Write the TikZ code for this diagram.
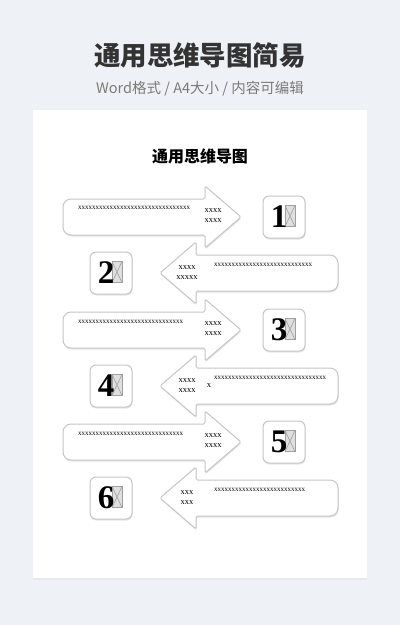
\documentclass[tikz,border=0pt]{standalone}
\usepackage{fontspec}
\newfontfamily\cjk{Noto Sans CJK SC}
\newfontfamily\xfont{Liberation Serif}
\usetikzlibrary{shadows,positioning}
\definecolor{bgcol}{HTML}{EEF1F6}
\definecolor{edgecol}{HTML}{C6C6C6}
\definecolor{titlecol}{HTML}{333333}
\definecolor{subcol}{HTML}{7A7A7A}
\tikzstyle{page} = [fill=white, drop shadow={opacity=0.08, shadow xshift=0pt, shadow yshift=-2pt}]
\tikzstyle{card} = [draw=edgecol, line width=1pt, fill=white, drop shadow={opacity=0.2, shadow xshift=0.6pt, shadow yshift=-1.5pt}]
\tikzstyle{numbox} = [card, rounded corners=6pt, minimum width=42pt, minimum height=42pt]
\tikzstyle{digit} = [font=\xfont\fontsize{33}{33}\selectfont\bfseries, inner sep=0pt]
\tikzstyle{glyph} = [draw=gray!75, fill=gray!25, line width=0.8pt, inner sep=0pt, minimum width=10pt, minimum height=21pt,
  path picture={\draw[gray!75, line width=0.6pt] (path picture bounding box.north west) -- (path picture bounding box.south east)
  (path picture bounding box.south west) -- (path picture bounding box.north east);}]
\tikzstyle{xtext} = [font=\xfont\fontsize{8.5}{10}\selectfont, inner sep=0pt, align=center]
\tikzstyle{xline} = [font=\xfont\fontsize{7}{8}\selectfont, inner sep=0pt, anchor=west]

% arrow pointing right, centre line at #1
\newcommand{\rarrowshape}[1]{%
  \draw[card] (130,#1-18) [rounded corners=1.5pt] -- (205,#1-18) -- (205,#1-31) -- (241,#1) -- (205,#1+31) -- (205,#1+18)
    [rounded corners=8pt] -- (63,#1+18) -- (63,#1-18) -- cycle;}
% arrow pointing left, centre line at #1
\newcommand{\larrowshape}[1]{%
  \draw[card] (270,#1+18) [rounded corners=1.5pt] -- (196,#1+18) -- (196,#1+31) -- (160,#1) -- (196,#1-31) -- (196,#1-18)
    [rounded corners=8pt] -- (338,#1-18) -- (338,#1+18) -- cycle;}

\begin{document}
\begin{tikzpicture}[x=1pt, y=-1pt]

    \fill[bgcol] (0,0) rectangle (400,625);
    \useasboundingbox (0,0) rectangle (400,625);

    \node [font=\cjk\fontsize{26.5}{26.5}\selectfont\bfseries, text=titlecol, name=title] at (200,55) {通用思维导图简易};
    \node [font=\cjk\fontsize{14.5}{14.5}\selectfont, text=subcol, below=6pt of title, name=sub] {Word格式 / A4大小 / 内容可编辑};

    \fill[page] (33,110) rectangle (367,578);

    \node [font=\cjk\fontsize{16}{16}\selectfont\bfseries, name=head] at (200,156) {通用思维导图};

    % row 1
    \rarrowshape{217}
    \node [xline, name=t1] at (78,208) {xxxxxxxxxxxxxxxxxxxxxxxxxxxxxxxx};
    \node [xtext, name=s1] at (213,216) {xxxx\\xxxx};
    \node [numbox, name=b1] at (284,217) {};
    \node [glyph, name=g1] at (290,216) {};
    \node [digit, name=d1] at (279,217) {1};

    % row 2
    \larrowshape{273}
    \node [xline, name=t2] at (214,265) {xxxxxxxxxxxxxxxxxxxxxxxxxxxx};
    \node [xtext, name=s2] at (187,273) {xxxx\\xxxxx};
    \node [numbox, name=b2] at (111,273) {};
    \node [glyph, name=g2] at (117,272) {};
    \node [digit, name=d2] at (106,273) {2};

    % row 3
    \rarrowshape{330}
    \node [xline, name=t3] at (78,322) {xxxxxxxxxxxxxxxxxxxxxxxxxxxxxx};
    \node [xtext, name=s3] at (213,329) {xxxx\\xxxx};
    \node [numbox, name=b3] at (284,330) {};
    \node [glyph, name=g3] at (290,329) {};
    \node [digit, name=d3] at (279,330) {3};

    % row 4
    \larrowshape{386}
    \node [xline, name=t4] at (214,378) {xxxxxxxxxxxxxxxxxxxxxxxxxxxxxxxx};
    \node [xtext, name=s4] at (187,386) {xxxx\\xxxx};
    \node [xtext, name=x4] at (209,386) {x};
    \node [numbox, name=b4] at (111,386) {};
    \node [glyph, name=g4] at (117,385) {};
    \node [digit, name=d4] at (106,386) {4};

    % row 5
    \rarrowshape{442}
    \node [xline, name=t5] at (78,434) {xxxxxxxxxxxxxxxxxxxxxxxxxxxxxx};
    \node [xtext, name=s5] at (213,441) {xxxx\\xxxx};
    \node [numbox, name=b5] at (284,442) {};
    \node [glyph, name=g5] at (290,441) {};
    \node [digit, name=d5] at (279,442) {5};

    % row 6
    \larrowshape{498}
    \node [xline, name=t6] at (214,490) {xxxxxxxxxxxxxxxxxxxxxxxxxx};
    \node [xtext, name=s6] at (187,498) {xxx\\xxx};
    \node [numbox, name=b6] at (111,498) {};
    \node [glyph, name=g6] at (117,497) {};
    \node [digit, name=d6] at (106,498) {6};

\end{tikzpicture}
\end{document}
